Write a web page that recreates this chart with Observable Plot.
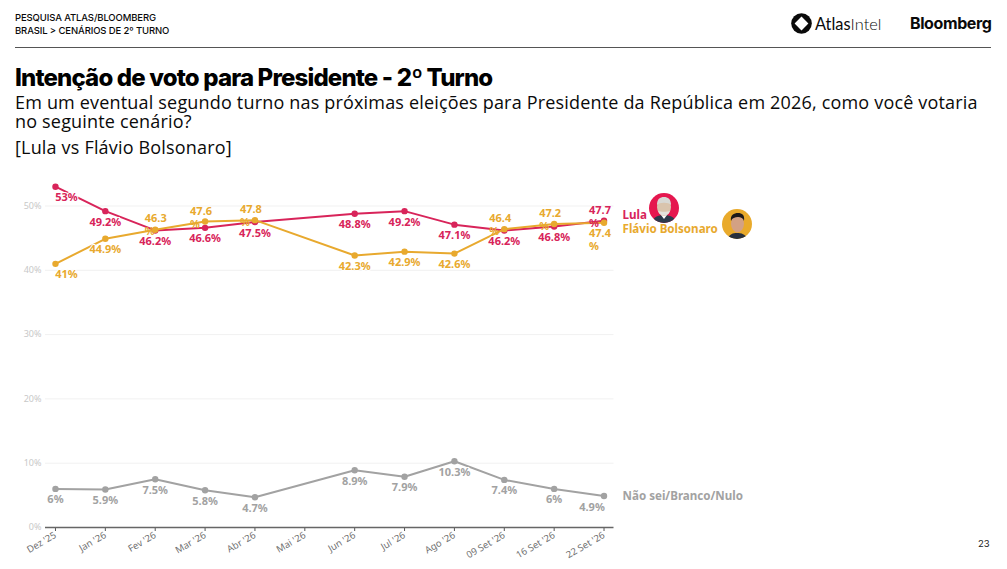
<!DOCTYPE html>
<html lang="pt-BR">
<head>
<meta charset="utf-8">
<script src="https://cdn.jsdelivr.net/npm/d3@7"></script>
<script src="https://cdn.jsdelivr.net/npm/@observablehq/plot@0.6"></script>
<style>
html,body{margin:0;padding:0;background:#fff;width:1007px;height:569px;overflow:hidden}
#page{position:relative;width:1007px;height:569px;font-family:Inter,sans-serif;color:#0a0a0a}
#head{position:relative;height:170px}
#head div,#head svg{position:absolute;white-space:nowrap}
.crumb{left:15px;font-size:9.5px;font-weight:500;letter-spacing:-.12px;line-height:13px}
#rule{left:15px;top:47px;width:976px;height:1.3px;background:#555}
#title{left:15px;top:63px;font-size:24px;line-height:30px;font-weight:800;letter-spacing:-.85px;color:#000}
.sub{left:15px;font-size:18px;line-height:20px;font-weight:400;font-family:"Open Sans",sans-serif;letter-spacing:.18px}
#atlas{left:815px;top:14px;font-size:16.4px;line-height:20px;font-family:Lato,sans-serif}
#bloom{left:910px;top:13px;font-size:16px;line-height:20px;font-weight:700;letter-spacing:-.4px}
#pageno{position:absolute;left:978px;top:537px;font-size:9.5px;line-height:13px;color:#222}
#chart{position:absolute;left:0;top:170px}
.avatar{position:absolute;width:30px;height:30px}
</style>
</head>
<body>
<div id="page">
  <div id="head">
    <div class="crumb" style="top:11px">PESQUISA ATLAS/BLOOMBERG</div>
    <div class="crumb" style="top:24px">BRASIL &gt; CENÁRIOS DE 2º TURNO</div>
    <svg style="left:791px;top:13px" width="21" height="21" viewBox="0 0 21 21"><circle cx="10.5" cy="10.5" r="10.3" fill="#0a0a0a"/><path d="M10.5 3.6 17.4 10.5 10.5 17.4 3.6 10.5Z" fill="#fff"/></svg>
    <div id="atlas"><span style="font-weight:400">Atlas</span><span style="font-weight:300">Intel</span></div>
    <div id="bloom">Bloomberg</div>
    <div id="rule"></div>
    <div id="title">Intenção de voto para Presidente - 2º Turno</div>
    <div class="sub" style="top:92px">Em um eventual segundo turno nas próximas eleições para Presidente da República em 2026, como você votaria</div>
    <div class="sub" style="top:111px">no seguinte cenário?</div>
    <div class="sub" style="top:137px">[Lula vs Flávio Bolsonaro]</div>
  </div>
  <div id="chart"></div>
  <svg class="avatar" style="left:649px;top:193px" viewBox="0 0 30 30"><defs><clipPath id="c1"><circle cx="15" cy="15" r="15"/></clipPath></defs><g clip-path="url(#c1)"><rect width="30" height="30" fill="#e5174f"/><path d="M3 30c1-6 6-8 12-8s11 2 12 8Z" fill="#2c3a4c"/><path d="M12 22l3 4 3-4Z" fill="#fff"/><ellipse cx="15" cy="14" rx="7" ry="9" fill="#d9c4ad"/><path d="M8 12c0-6 3-8 7-8s7 2 7 8c-2-3-12-3-14 0Z" fill="#d8d8d4"/><path d="M9 18c2 6 10 6 12 0-2 1-10 1-12 0Z" fill="#e4e2de"/></g></svg>
  <svg class="avatar" style="left:722px;top:209px" viewBox="0 0 30 30"><defs><clipPath id="c2"><circle cx="15" cy="15" r="15"/></clipPath></defs><g clip-path="url(#c2)"><rect width="30" height="30" fill="#e9aa2b"/><path d="M6 30c1-5 5-6 9-6s9 1 10 6Z" fill="#28303c"/><ellipse cx="15.5" cy="14.5" rx="6.5" ry="9" fill="#d3a184"/><path d="M9 12c-1-6 3-8 7-8s7 2 6 8c-1-3-3-4-6-4s-6 1-7 4Z" fill="#1d1a1a"/></g></svg>
  <div id="pageno">23</div>
</div>
<script>
const categories = ["Dez '25","Jan '26","Fev '26","Mar '26","Abr '26","Mai '26","Jun '26","Jul '26","Ago '26","09 Set '26","16 Set '26","22 Set '26"];
const lulaValues = [53,49.2,46.2,46.6,47.5,null,48.8,49.2,47.1,46.2,46.8,47.7];
const flavioValues = [41,44.9,46.3,47.6,47.8,null,42.3,42.9,42.6,46.4,47.2,47.4];
const otherValues = [6,5.9,7.5,5.8,4.7,null,8.9,7.9,10.3,7.4,6,4.9];
const lulaLabels = ["53%","49.2%","46.2%","46.6%","47.5%",null,"48.8%","49.2%","47.1%","46.2%","46.8%","47.7\n%"];
const flavioLabels = ["41%","44.9%","46.3\n%","47.6\n%","47.8\n%",null,"42.3%","42.9%","42.6%","46.4\n%","47.2\n%","47.4\n%"];
const otherLabels = ["6%","5.9%","7.5%","5.8%","4.7%",null,"8.9%","7.9%","10.3%","7.4%","6%","4.9%"];
const yTicks = [0,10,20,30,40,50];

const PINK = "#d8245a", GOLD = "#e8a92e", GREY = "#a2a2a2";
const FONT = "'Noto Sans',sans-serif";

const table = (values, labels) => categories
  .map((x, i) => ({x, y: values[i], label: labels[i]}))
  .filter(d => d.y != null);
const lula = table(lulaValues, lulaLabels);
const flavio = table(flavioValues, flavioLabels);
const other = table(otherValues, otherLabels);

const last = categories[categories.length - 1];
const first = categories[0];
const wrapped = d => d.label.includes("\n");

function below(data, fill, filter = () => true, dx = 0) {
  return Plot.text(data.filter(d => !wrapped(d) && filter(d)), {
    x: "x", y: "y", text: "label", fill, dx, dy: 11,
    fontSize: 11, fontWeight: 700, fontFamily: FONT,
    stroke: "white", strokeWidth: 2
  });
}
function wrappedLabel(data, fill, dy, dx = -15) {
  return Plot.text(data, {
    x: "x", y: "y", text: "label", fill, dx, dy,
    textAnchor: "start", lineAnchor: "top", lineHeight: 1.18,
    fontSize: 11, fontWeight: 700, fontFamily: FONT
  });
}
function series(data, stroke) {
  return [
    Plot.line(data, {x: "x", y: "y", stroke, strokeWidth: 2, curve: "linear"}),
    Plot.dot(data, {x: "x", y: "y", fill: stroke, r: 3.2})
  ];
}
function endLabel(data, text, fill, dy) {
  return Plot.text(data.filter(d => d.x === last), {
    x: "x", y: "y", text: () => text, fill, dx: 18.5, dy,
    textAnchor: "start", fontSize: 11.6, fontWeight: 700, fontFamily: FONT
  });
}

const chart = Plot.plot({
  width: 1007, height: 399,
  marginLeft: 45, marginRight: 393.5, marginTop: 3.35, marginBottom: 42,
  style: {background: "transparent", overflow: "visible"},
  x: {type: "point", domain: categories, padding: 0.2, round: false, label: null},
  y: {domain: [0, 55], label: null},
  marks: [
    Plot.ruleY(yTicks.filter(t => t > 0), {stroke: "#f1f1f1", strokeWidth: 1}),
    Plot.axisY({ticks: yTicks, tickSize: 0, tickPadding: 4, label: null, tickFormat: d => d + "%",
      fill: "#c8c8c8", fontSize: 9, fontFamily: FONT}),
    Plot.axisX({tickSize: 4, tickRotate: -30, tickPadding: 3, label: null, stroke: "#555",
      fill: "#6f6f6f", fontSize: 9.5, fontFamily: FONT}),
    Plot.ruleY([0], {stroke: "#666", strokeWidth: 1.5}),
    ...series(lula, PINK),
    ...series(flavio, GOLD),
    ...series(other, GREY),
    below(lula, PINK, d => d.x !== first),
    below(lula, PINK, d => d.x === first, 11),
    below(flavio, GOLD, d => d.x !== first),
    below(flavio, GOLD, d => d.x === first, 11),
    below(other, GREY, d => d.x !== last),
    below(other, GREY, d => d.x === last, -12),
    wrappedLabel(lula.filter(wrapped), PINK, -16),
    wrappedLabel(flavio.filter(d => wrapped(d) && d.x === "Fev '26"), GOLD, -17, -10.5),
    wrappedLabel(flavio.filter(d => wrapped(d) && d.x !== last && d.x !== "Fev '26"), GOLD, -16),
    wrappedLabel(flavio.filter(d => wrapped(d) && d.x === last), GOLD, 5),
    endLabel(lula, "Lula", PINK, -6),
    endLabel(flavio, "Flávio Bolsonaro", GOLD, 7),
    endLabel(other, "Não sei/Branco/Nulo", GREY, 0.5)
  ]
});
document.getElementById("chart").appendChild(chart);
</script>
</body>
</html>
